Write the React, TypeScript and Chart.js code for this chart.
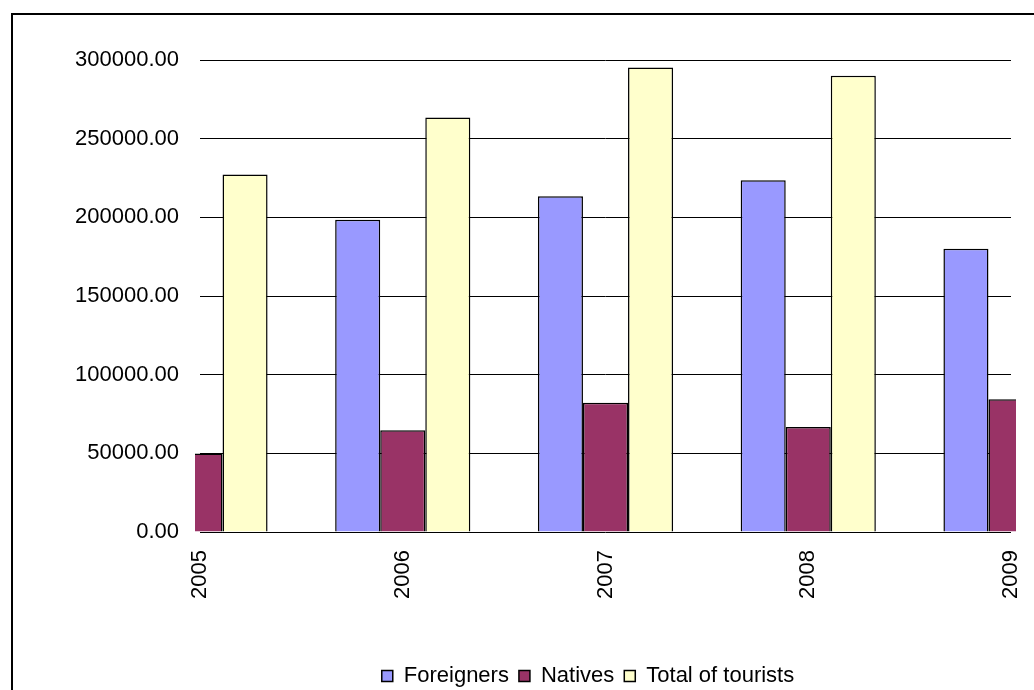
import React, { useEffect, useRef } from "react";
import { Chart, registerables } from "chart.js";

Chart.register(...registerables);

// Tourist arrivals per year, split by origin
const years = ["2005", "2006", "2007", "2008", "2009"];
const foreigners = [177300, 198400, 213400, 223600, 180100];
const natives = [49900, 64700, 82100, 66800, 84300];
const totalTourists = [227200, 263500, 295300, 290000, 264400];
const yTickValues = [0, 50000, 100000, 150000, 200000, 250000, 300000];

const FONT = "'Liberation Sans', Arial, Helvetica, sans-serif";

// White page plus the thin outer frame around the chart
const framePlugin = {
  id: "frame",
  beforeDraw(chart: any) {
    const { ctx } = chart;
    ctx.save();
    ctx.fillStyle = "#ffffff";
    ctx.fillRect(0, 0, chart.width, chart.height);
    ctx.strokeStyle = "#000000";
    ctx.lineWidth = 2;
    ctx.strokeRect(12, 14, 3000, 3000);
    ctx.restore();
  },
};

// Centre the legend row under the span 165..1011 instead of the full canvas
const legendSpanPlugin = {
  id: "legendSpan",
  afterLayout(chart: any) {
    const legend = chart.legend;
    if (!legend) return;
    legend.left = 165;
    legend.right = 1011;
    legend.width = legend.right - legend.left;
  },
};

export default function App() {
  const canvasRef = useRef<HTMLCanvasElement | null>(null);

  useEffect(() => {
    if (!canvasRef.current) return;
    const barClip = { left: 5, right: 5, top: false, bottom: 0 };
    const barStyle = { borderColor: "#000000", borderWidth: 1.5, clip: barClip as any };
    const chart = new Chart(canvasRef.current, {
      type: "bar",
      data: {
        labels: years,
        datasets: [
          { label: "Foreigners", data: foreigners, backgroundColor: "#9999ff", ...barStyle },
          { label: "Natives", data: natives, backgroundColor: "#993366", ...barStyle },
          { label: "Total of tourists", data: totalTourists, backgroundColor: "#ffffcc", ...barStyle },
        ],
      },
      plugins: [framePlugin, legendSpanPlugin],
      options: {
        responsive: false,
        animation: false,
        devicePixelRatio: 1,
        categoryPercentage: 2 / 3,
        barPercentage: 1,
        layout: { padding: { left: 60, right: 23, top: 60, bottom: 0 } },
        plugins: {
          legend: {
            position: "bottom",
            maxHeight: 35,
            labels: {
              boxWidth: 11,
              boxHeight: 11,
              padding: 10,
              color: "#000000",
              font: { family: FONT, size: 22 },
            },
          },
          tooltip: { enabled: false },
        },
        scales: {
          x: {
            type: "category",
            offset: false,
            grid: { display: false, drawTicks: false },
            border: { display: false },
            ticks: {
              autoSkip: false,
              minRotation: 90,
              maxRotation: 90,
              padding: 18,
              color: "#000000",
              font: { family: FONT, size: 22 },
            },
            afterFit: (scale: any) => {
              scale.height = 123;
              scale.paddingLeft = 0;
              scale.paddingRight = 0;
            },
          },
          y: {
            min: 0,
            max: 300000,
            grid: { color: "#000000", lineWidth: 1, drawTicks: false },
            border: { display: false },
            ticks: {
              padding: 21,
              color: "#000000",
              font: { family: FONT, size: 22 },
              callback: (v: any) => Number(v).toFixed(2),
            },
            afterBuildTicks: (scale: any) => {
              scale.ticks = yTickValues.map((value) => ({ value }));
            },
            afterFit: (scale: any) => {
              scale.width = 140;
            },
          },
        },
      },
    });
    return () => chart.destroy();
  }, []);

  return (
    <div style={{ position: "absolute", left: 0, top: 0, width: 1034, height: 690, background: "#fff" }}>
      <canvas ref={canvasRef} width={1034} height={690} style={{ display: "block" }} />
    </div>
  );
}
